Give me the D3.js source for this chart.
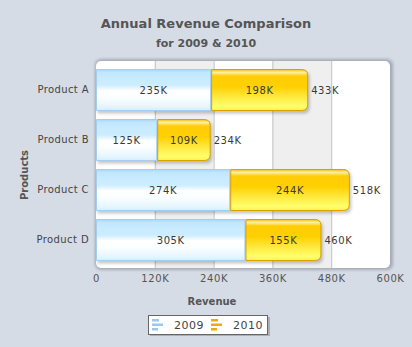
<!DOCTYPE html>
<html>
<head>
<meta charset="utf-8">
<script src="https://cdn.jsdelivr.net/npm/d3@7"></script>
<style>
  body { margin: 0; background: #d6dce6; }
  svg text { font-family: "DejaVu Sans", Verdana, sans-serif; }
</style>
</head>
<body>
<div id="chart"></div>
<script>
// data (values in thousands)
const products = ['Product A', 'Product B', 'Product C', 'Product D'];
const rev2009 = [235, 125, 274, 305];
const rev2010 = [198, 109, 244, 155];
const seriesNames = ['2009', '2010'];
const xTicks = [0, 120, 240, 360, 480, 600];

const width = 412, height = 347;
const plot = { left: 96, top: 61, right: 390, bottom: 268 };

const svg = d3.select('#chart').append('svg')
  .attr('width', width)
  .attr('height', height);

const defs = svg.append('defs');

const blueGrad = defs.append('linearGradient')
  .attr('id', 'blueGrad').attr('x1', 0).attr('y1', 0).attr('x2', 0).attr('y2', 1);
[[0, '#aad6f6'], [0.08, '#c2e8fe'], [0.38, '#cdedff'], [0.52, '#ffffff'], [0.68, '#fbfeff'], [0.9, '#e6f6ff'], [1, '#d4eefe']]
  .forEach(s => blueGrad.append('stop').attr('offset', s[0]).attr('stop-color', s[1]));

const goldGrad = defs.append('linearGradient')
  .attr('id', 'goldGrad').attr('x1', 0).attr('y1', 0).attr('x2', 0).attr('y2', 1);
[[0, '#f0bc10'], [0.07, '#fff0a0'], [0.16, '#ffcc08'], [0.42, '#ffd000'], [0.62, '#ffe434'], [0.9, '#ffff6c'], [1, '#fff050']]
  .forEach(s => goldGrad.append('stop').attr('offset', s[0]).attr('stop-color', s[1]));

const blur = defs.append('filter').attr('id', 'soft')
  .attr('x', -0.1).attr('y', -0.1).attr('width', 1.2).attr('height', 1.2);
blur.append('feGaussianBlur').attr('stdDeviation', 1.5);

const fills = ['url(#blueGrad)', 'url(#goldGrad)'];
const strokes = ['#a6cdee', '#d9a200'];
const legendColors = ['#9cc8ec', '#e8ac10'];

// titles
svg.append('text')
  .attr('x', 206).attr('y', 28)
  .attr('text-anchor', 'middle')
  .attr('font-size', 13).attr('font-weight', 'bold')
  .attr('fill', '#555')
  .text('Annual Revenue Comparison');

svg.append('text')
  .attr('x', 206).attr('y', 47)
  .attr('text-anchor', 'middle')
  .attr('font-size', 11).attr('font-weight', 'bold')
  .attr('fill', '#555')
  .text('for 2009 & 2010');

// scales
const x = d3.scaleLinear()
  .domain([0, 600])
  .range([plot.left, plot.right]);

const y = d3.scaleBand()
  .domain(products)
  .range([plot.top + 4, plot.top + 204])
  .paddingInner(0.16)
  .paddingOuter(0.08);

// plot background + soft shadow
svg.append('rect')
  .attr('x', plot.left - 1).attr('y', plot.top - 2)
  .attr('width', plot.right - plot.left + 4).attr('height', plot.bottom - plot.top + 4)
  .attr('rx', 6)
  .attr('fill', '#8f96a3')
  .attr('opacity', 0.7)
  .attr('filter', 'url(#soft)');

svg.append('rect')
  .attr('x', plot.left).attr('y', plot.top)
  .attr('width', plot.right - plot.left).attr('height', plot.bottom - plot.top)
  .attr('rx', 5)
  .attr('fill', '#fff');

// alternating column bands
svg.selectAll('.band')
  .data([[120, 240], [360, 480]])
  .enter().append('rect')
  .attr('class', 'band')
  .attr('x', d => x(d[0]))
  .attr('y', plot.top)
  .attr('width', d => x(d[1]) - x(d[0]))
  .attr('height', plot.bottom - plot.top)
  .attr('fill', '#efefef');

svg.selectAll('.grid')
  .data(xTicks.slice(1, -1))
  .enter().append('line')
  .attr('class', 'grid')
  .attr('x1', d => x(d) + 0.5).attr('x2', d => x(d) + 0.5)
  .attr('y1', plot.top).attr('y2', plot.bottom)
  .attr('stroke', '#c2c2c2');

// stacked data
const rows = products.map((p, i) => {
  const a = rev2009[i], b = rev2010[i];
  return { product: p, total: a + b, segs: [{ s: 0, v: a, x0: 0, x1: a }, { s: 1, v: b, x0: a, x1: a + b }] };
});

function rightRounded(x0, y0, w, h, r) {
  return `M${x0},${y0}H${x0 + w - r}Q${x0 + w},${y0} ${x0 + w},${y0 + r}` +
    `V${y0 + h - r}Q${x0 + w},${y0 + h} ${x0 + w - r},${y0 + h}H${x0}Z`;
}

const bh = y.bandwidth();

// bar shadows
svg.selectAll('.shadow')
  .data(rows)
  .enter().append('path')
  .attr('class', 'shadow')
  .attr('d', d => rightRounded(x(0) + 1.5, y(d.product) + 2.5, x(d.total) - x(0), bh, 6))
  .attr('fill', '#000')
  .attr('opacity', 0.22)
  .attr('filter', 'url(#soft)');

const barG = svg.selectAll('.bar')
  .data(rows)
  .enter().append('g')
  .attr('class', 'bar');

barG.selectAll('path')
  .data(d => d.segs.map(s => Object.assign({ product: d.product }, s)))
  .enter().append('path')
  .attr('d', d => {
    const x0 = x(d.x0) + 0.5, w = x(d.x1) - x(d.x0) - 1, y0 = y(d.product) + 0.5;
    return d.s === 1 ? rightRounded(x0, y0, w, bh - 1, 6)
      : `M${x0},${y0}h${w}v${bh - 1}h${-w}Z`;
  })
  .attr('fill', d => fills[d.s])
  .attr('stroke', d => strokes[d.s])
  .attr('stroke-width', 1);

barG.selectAll('.val')
  .data(d => d.segs.map(s => Object.assign({ product: d.product }, s)))
  .enter().append('text')
  .attr('class', 'val')
  .attr('x', d => (x(d.x0) + x(d.x1)) / 2)
  .attr('y', d => y(d.product) + bh / 2 + 4)
  .attr('text-anchor', 'middle')
  .attr('font-size', 10)
  .attr('letter-spacing', 0.6)
  .attr('fill', '#3a3a3a')
  .text(d => d.v + 'K');

barG.append('text')
  .attr('x', d => x(d.total) + 3)
  .attr('y', d => y(d.product) + bh / 2 + 4)
  .attr('font-size', 10)
  .attr('letter-spacing', 0.6)
  .attr('fill', '#3a3a3a')
  .text(d => d.total + 'K');

// axes
const xAxis = svg.append('g')
  .attr('transform', `translate(0,${plot.bottom + 4})`)
  .call(d3.axisBottom(x).tickValues(xTicks).tickSize(0).tickFormat(d => d === 0 ? '0' : d + 'K'));
xAxis.select('.domain').remove();
xAxis.selectAll('text')
  .attr('font-size', 10).attr('letter-spacing', 0.6)
  .attr('fill', '#555').attr('font-family', '"DejaVu Sans", Verdana, sans-serif');

const yAxis = svg.append('g')
  .attr('transform', `translate(${plot.left - 4},0)`)
  .call(d3.axisLeft(y).tickSize(0));
yAxis.select('.domain').remove();
yAxis.selectAll('text')
  .attr('font-size', 10).attr('letter-spacing', 0.4)
  .attr('fill', '#444').attr('font-family', '"DejaVu Sans", Verdana, sans-serif');

svg.append('text')
  .attr('x', 212).attr('y', 305)
  .attr('text-anchor', 'middle')
  .attr('font-size', 10).attr('font-weight', 'bold')
  .attr('fill', '#555')
  .text('Revenue');

svg.append('text')
  .attr('transform', 'translate(28,175) rotate(-90)')
  .attr('text-anchor', 'middle')
  .attr('font-size', 10).attr('font-weight', 'bold')
  .attr('fill', '#555')
  .text('Products');

// legend
const lg = svg.append('g').attr('transform', 'translate(148,315)');
lg.append('rect')
  .attr('x', 2).attr('y', 2).attr('width', 120).attr('height', 19)
  .attr('fill', '#8a8f98').attr('opacity', 0.6);
lg.append('rect')
  .attr('x', 0.5).attr('y', 0.5).attr('width', 119).attr('height', 19)
  .attr('fill', '#fff').attr('stroke', '#666');

const items = lg.selectAll('.item')
  .data(seriesNames)
  .enter().append('g')
  .attr('class', 'item')
  .attr('transform', (d, i) => `translate(${4 + i * 59},0)`);

items.selectAll('rect')
  .data((d, i) => [[0, 7], [1, 11], [2, 6]].map(r => ({ s: i, row: r[0], len: r[1] })))
  .enter().append('rect')
  .attr('x', 0)
  .attr('y', d => 4 + d.row * 4.5)
  .attr('width', d => d.len)
  .attr('height', 2.5)
  .attr('fill', d => legendColors[d.s]);

items.append('text')
  .attr('x', 22).attr('y', 14)
  .attr('font-size', 11).attr('letter-spacing', 0.5)
  .attr('fill', '#444')
  .text(d => d);
</script>
</body>
</html>
